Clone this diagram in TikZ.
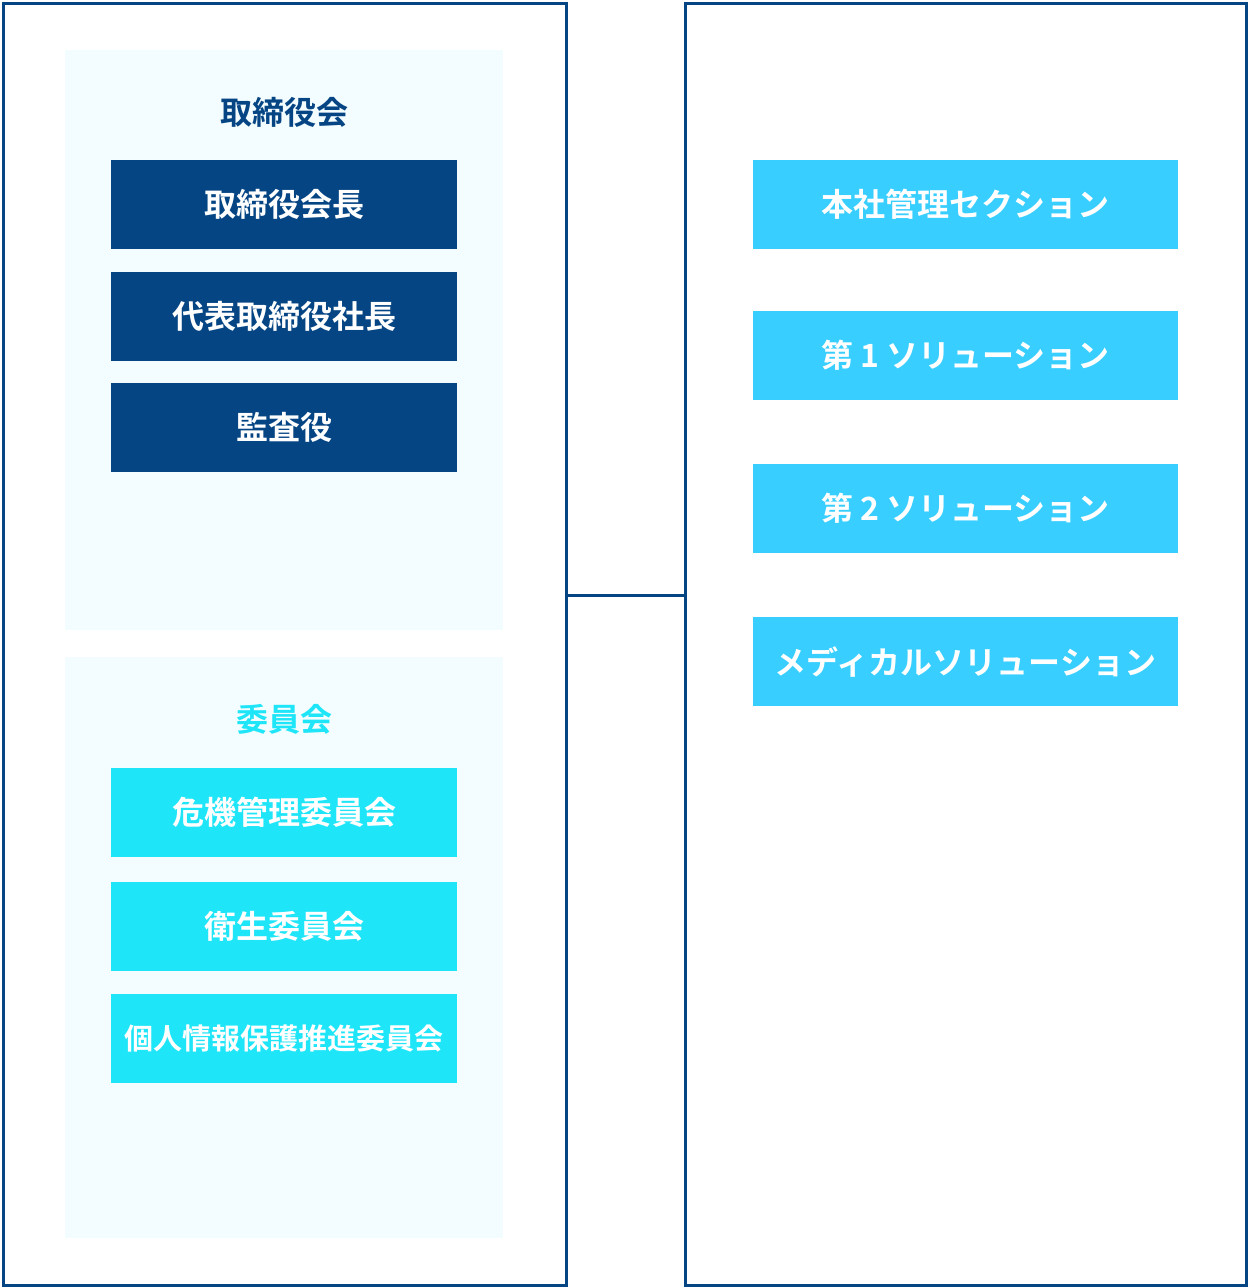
\documentclass[tikz,border=0pt]{standalone}
\usepackage{fontspec}
\setmainfont{Noto Sans CJK JP}[BoldFont={Noto Sans CJK JP Bold}]
\definecolor{navy}{HTML}{054584}
\definecolor{pale}{HTML}{F3FDFF}
\definecolor{aqua}{HTML}{1FE5F8}
\definecolor{sky}{HTML}{38CEFF}
\begin{document}
\begin{tikzpicture}[x=1pt,y=-1pt,
  frame/.style={draw=navy,line width=3pt},
  bg/.style={fill=pale,draw=none},
  box/.style={minimum width=346pt,minimum height=89pt,inner sep=0pt,text=white,font=\fontsize{32}{36}\selectfont\bfseries},
  darkbox/.style={box,fill=navy},
  aquabox/.style={box,fill=aqua},
  skybox/.style={box,fill=sky,minimum width=425pt},
  title/.style={font=\fontsize{32}{36}\selectfont\bfseries}]
\useasboundingbox (0,0) rectangle (1250,1288);
% panels
\draw[frame] (3,3) rectangle (566,1285);
\draw[frame] (685,3) rectangle (1246,1285);
\fill[bg] (65,50) rectangle (503,630);
\fill[bg] (65,657) rectangle (503,1238);
\coordinate (L) at (566,595);
\coordinate (R) at (685,595);
\draw[navy,line width=3pt] (L) -- (R);
% titles
\node[title,text=navy] (t1) at (284,112) {取締役会};
\node[title,text=aqua] (t2) at (284,719) {委員会};
% board
\node[darkbox] (b1) at (284,204.5) {取締役会長};
\node[darkbox] (b2) at (284,316) {代表取締役社長};
\node[darkbox] (b3) at (284,427.5) {監査役};
% committees
\node[aquabox] (c1) at (284,812) {危機管理委員会};
\node[aquabox] (c2) at (284,926) {衛生委員会};
\node[aquabox,font=\fontsize{29}{34}\selectfont\bfseries] (c3) at (284,1038.5) {個人情報保護推進委員会};
% sections
\node[skybox] (s1) at (965.5,204.5) {本社管理セクション};
\node[skybox] (s2) at (965.5,355.5) {第 1 ソリューション};
\node[skybox] (s3) at (965.5,508.5) {第 2 ソリューション};
\node[skybox] (s4) at (965.5,661.5) {メディカルソリューション};
\end{tikzpicture}
\end{document}
